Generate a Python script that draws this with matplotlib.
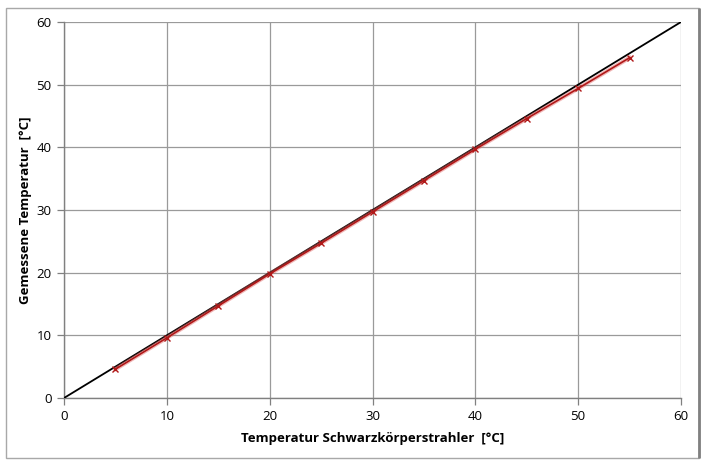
import matplotlib
matplotlib.use("Agg")
import matplotlib.pyplot as plt
from matplotlib.patches import Rectangle

# Data
x_ref = [0, 60]
y_ref = [0, 60]
x_meas = [5, 10, 15, 20, 25, 30, 35, 40, 45, 50, 55]
y_meas = [4.6, 9.6, 14.7, 19.8, 24.7, 29.7, 34.7, 39.7, 44.6, 49.4, 54.3]
ticks = [0, 10, 20, 30, 40, 50, 60]

plt.rcParams['font.family'] = ['Open Sans', 'DejaVu Sans']

fig = plt.figure(figsize=(7.09, 4.76), dpi=100)
W, H = 709, 476

# chart frame
fig.patches.append(Rectangle((6 / W, 1 - 458 / H), (699 - 6) / W, (458 - 8) / H,
                             transform=fig.transFigure, fill=False,
                             edgecolor='#a8a8a8', linewidth=1.0))
fig.patches.append(Rectangle((699 / W, 1 - 458 / H), 0.0001, (458 - 8) / H,
                             transform=fig.transFigure, fill=False,
                             edgecolor='#808080', linewidth=2.0))

ax = fig.add_axes([64 / W, 1 - 398 / H, (681 - 64) / W, (398 - 22) / H])
ax.set_xlim(0, 60)
ax.set_ylim(0, 60)
ax.set_xticks(ticks)
ax.set_yticks(ticks)
ax.grid(True, color='#9a9a9a', linewidth=0.9)
ax.set_axisbelow(True)
for s in ['top', 'right']:
    ax.spines[s].set_visible(False)
for s in ['left', 'bottom']:
    ax.spines[s].set_color('#808080')
    ax.spines[s].set_linewidth(1.0)
ax.tick_params(axis='both', colors='#808080', labelcolor='black', labelsize=9.5,
               length=5, width=0.9, direction='out', pad=4)

ax.plot(x_ref, y_ref, color='black', linewidth=1.3, zorder=3)
ax.plot(x_meas, y_meas, color='#e06060', linewidth=3.0, alpha=0.45, zorder=3)
ax.plot(x_meas, y_meas, color='#b01818', linewidth=1.2, marker='x',
        markersize=5, markeredgewidth=1.0, zorder=4)

ax.set_xlabel('Temperatur Schwarzkörperstrahler  [°C]', fontsize=9.5,
              fontweight='bold', labelpad=6)
ax.set_ylabel('Gemessene Temperatur  [°C]', fontsize=9.5,
              fontweight='bold', labelpad=3)

fig.savefig('out.png', dpi=100)
